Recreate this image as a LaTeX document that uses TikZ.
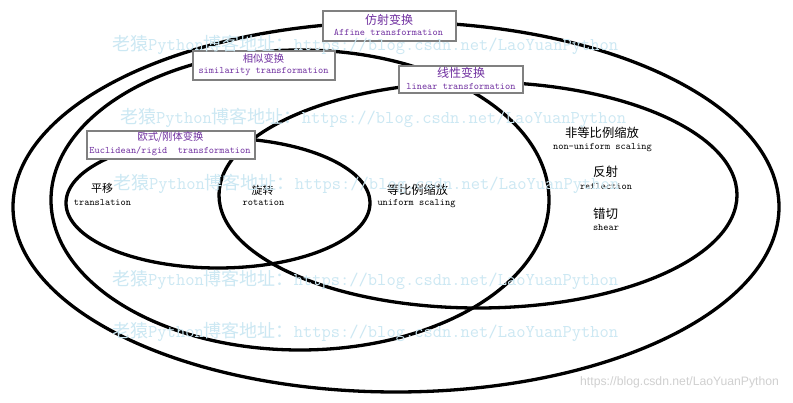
\documentclass[tikz,border=0pt]{standalone}
\usepackage{fontspec}
\newfontfamily\cjk{Noto Sans CJK SC}
\newfontfamily\wmsans{Liberation Sans}
\definecolor{tfpurple}{RGB}{112,48,160}
\definecolor{wmblue}{RGB}{204,232,243}
\definecolor{boxgray}{RGB}{128,128,128}
\definecolor{wmgray}{RGB}{208,208,208}
\newcommand{\wmtext}{{\cjk 老猿}{\ttfamily Python}{\cjk 博客地址：}{\ttfamily https://blog.csdn.net/LaoYuanPython}}
\begin{document}
\begin{tikzpicture}[x=1pt,y=-1pt,
  ell/.style={line width=3.3pt, black},
  tbox/.style={draw=boxgray, line width=1.2pt, fill=white, inner sep=0pt},
  cn/.style={inner sep=0pt, font=\cjk\fontsize{#1}{#1}\selectfont},
  entt/.style={inner sep=0pt, text height=7pt, text depth=1pt, font=\ttfamily\fontsize{9.9}{10}\selectfont},
  wm/.style={inner sep=0pt, anchor=west, text=wmblue, font=\fontsize{18}{18}\selectfont}]
\useasboundingbox (0,0) rectangle (793,403);
\fill[white] (0,0) rectangle (793,403);
% ellipses
\draw[ell] (396,207) ellipse [x radius=383pt, y radius=185pt];
\draw[ell] (300,200) ellipse [x radius=249pt, y radius=150pt];
\draw[ell] (478,195) ellipse [x radius=259pt, y radius=113pt];
\draw[ell] (218,203) ellipse [x radius=152pt, y radius=65pt];
% boxes
\node[tbox, minimum width=133pt, minimum height=30pt] (affbox) at (389.5,26) {};
\node[tbox, minimum width=142pt, minimum height=29pt] (simbox) at (264,65.5) {};
\node[tbox, minimum width=124pt, minimum height=27pt] (linbox) at (461,79.5) {};
\node[tbox, minimum width=168pt, minimum height=28pt] (eucbox) at (171,145) {};
% box texts
\node[cn=12, text=tfpurple] (affcn) at (389,20) {仿射变换};
\node[entt, text=tfpurple] (affen) at (388.5,33) {Affine transformation};
\node[cn=10.3, text=tfpurple] (simcn) at (263.5,59) {相似变换};
\node[entt, text=tfpurple] (simen) at (263.5,71) {similarity transformation};
\node[cn=12, text=tfpurple] (lincn) at (461,73) {线性变换};
\node[entt, text=tfpurple] (linen) at (461,87) {linear transformation};
\node[cn=10.3, text=tfpurple] (euccn) at (170.5,137) {欧式/刚体变换};
\node[entt, text=tfpurple] (eucen) at (170,151) {Euclidean/rigid\ \ transformation};
% inner labels
\node[cn=11] (transcn) at (102,188) {平移};
\node[entt] (transen) at (102.5,203) {translation};
\node[cn=11] (rotcn) at (262.5,190) {旋转};
\node[entt] (roten) at (263.5,203) {rotation};
\node[cn=12.2] (unicn) at (417.5,190) {等比例缩放};
\node[entt] (unien) at (416.5,203) {uniform scaling};
\node[cn=12.3] (nonunicn) at (602,133) {非等比例缩放};
\node[entt] (nonunien) at (602.5,147) {non-uniform scaling};
\node[cn=12.5] (reflcn) at (605.5,172) {反射};
\node[entt] (reflen) at (606,187) {reflection};
\node[cn=12.5] (shearcn) at (605.5,214) {错切};
\node[entt] (shearen) at (606,228) {shear};
% watermarks
\node[wm] (wm1) at (112,45) {\wmtext};
\node[wm] (wm2) at (120,118) {\wmtext};
\node[wm] (wm3) at (113,184) {\wmtext};
\node[wm] (wm4) at (112,280) {\wmtext};
\node[wm] (wm5) at (112,332) {\wmtext};
\node[inner sep=0pt, anchor=west, text=wmgray, font=\wmsans\fontsize{12.2}{12.2}\selectfont] (wm6) at (580,382) {https://blog.csdn.net/LaoYuanPython};
\end{tikzpicture}
\end{document}
